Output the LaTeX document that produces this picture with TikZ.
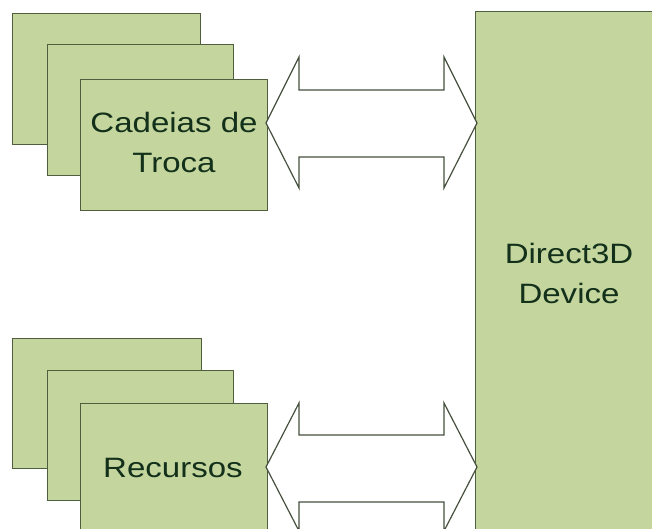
\documentclass[tikz,border=0pt]{standalone}
\usepackage{fontspec}
\newfontfamily\lblfont[FakeStretch=1.18]{Liberation Sans}
\definecolor{boxfill}{HTML}{C4D59E}
\definecolor{boxline}{HTML}{4F5E3C}
\definecolor{txt}{HTML}{12301A}
\definecolor{arrline}{HTML}{46503E}
\begin{document}
\begin{tikzpicture}[x=1pt,y=-1pt,
  panel/.style={draw=boxline, fill=boxfill, line width=1.1pt, anchor=north west, inner sep=0pt},
  lbl/.style={text=txt, font=\lblfont\fontsize{28}{40}\selectfont, align=center, inner sep=0pt},
  twoway/.style={draw=arrline, fill=white, line width=1.2pt, line join=miter}]
\useasboundingbox (0,0) rectangle (652,529);
\clip (0,0) rectangle (652,529);
% top stack
\node[panel, minimum width=188pt, minimum height=131pt] (t1) at (12,13) {};
\node[panel, minimum width=186pt, minimum height=131pt] (t2) at (47,44) {};
\node[panel, minimum width=187pt, minimum height=131pt] (t3) at (80,79) {};
\node[lbl, anchor=base] (tl) at (174,173) {Cadeias de\\Troca};
% bottom stack
\node[panel, minimum width=189pt, minimum height=130pt] (b1) at (12,338) {};
\node[panel, minimum width=186pt, minimum height=130pt] (b2) at (47,370) {};
\node[panel, minimum width=187pt, minimum height=140pt] (b3) at (80,403) {};
\node[lbl, anchor=base] (bl) at (173,477) {Recursos};
% device
\node[panel, minimum width=200pt, minimum height=540pt] (dev) at (475,11) {};
\node[lbl, anchor=base] (dl) at (569,303) {Direct3D\\Device};
% double arrows
\draw[twoway] (266,123) -- (299,57) -- (299,90) -- (444,90) -- (444,57) -- (477,123)
  -- (444,188) -- (444,157) -- (299,157) -- (299,188) -- cycle;
\draw[twoway] (266,467) -- (299,403) -- (299,435) -- (444,435) -- (444,403) -- (477,467)
  -- (444,531) -- (444,502) -- (299,502) -- (299,531) -- cycle;
\end{tikzpicture}
\end{document}
